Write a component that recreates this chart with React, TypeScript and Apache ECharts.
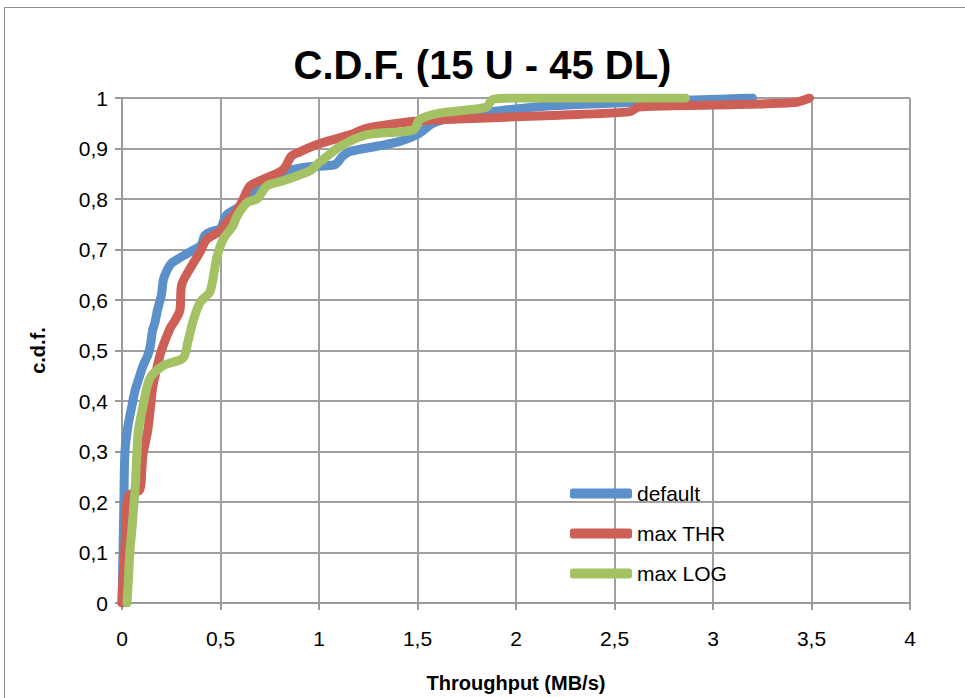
import React, { useEffect, useRef } from "react";
import * as echarts from "echarts";

const titleText = "C.D.F. (15 U - 45 DL)";
const xAxisName = "Throughput (MB/s)";
const yAxisName = "c.d.f.";
const seriesNames = ["default", "max THR", "max LOG"];
const seriesColors = ["#5B90CB", "#CD5F57", "#A4C263"];

const defaultData: number[][] = [
  [0, 0], [0.005, 0.1], [0.01, 0.21], [0.015, 0.3], [0.03, 0.35], [0.05, 0.39], [0.066, 0.42],
  [0.09, 0.45], [0.107, 0.47], [0.13, 0.49], [0.142, 0.505], [0.155, 0.54], [0.167, 0.555],
  [0.18, 0.58], [0.2, 0.61], [0.21, 0.64], [0.23, 0.66], [0.25, 0.672], [0.3, 0.685],
  [0.33, 0.692], [0.4, 0.708], [0.42, 0.728], [0.45, 0.735], [0.5, 0.742], [0.53, 0.768],
  [0.6, 0.786], [0.665, 0.812], [0.75, 0.843], [0.85, 0.857], [0.95, 0.864], [1.08, 0.868],
  [1.12, 0.885], [1.157, 0.894], [1.3, 0.905], [1.41, 0.914], [1.5, 0.928], [1.58, 0.95],
  [1.7, 0.963], [1.92, 0.975], [2.2, 0.985], [2.5, 0.99], [2.9, 0.996], [3.2, 1.0],
];

const maxThrData: number[][] = [
  [0, 0], [0.005, 0.05], [0.015, 0.11], [0.025, 0.2], [0.04, 0.215], [0.09, 0.224], [0.1, 0.26],
  [0.107, 0.295], [0.13, 0.34], [0.145, 0.39], [0.157, 0.43], [0.18, 0.47], [0.2, 0.5],
  [0.244, 0.544], [0.27, 0.56], [0.294, 0.58], [0.303, 0.63], [0.345, 0.662], [0.396, 0.695],
  [0.43, 0.72], [0.5, 0.737], [0.533, 0.755], [0.58, 0.775], [0.615, 0.8], [0.65, 0.826],
  [0.716, 0.839], [0.817, 0.858], [0.86, 0.885], [0.9, 0.893], [0.99, 0.908], [1.157, 0.927],
  [1.24, 0.94], [1.46, 0.953], [1.61, 0.957], [2.22, 0.966], [2.58, 0.973], [2.62, 0.982],
  [3.0, 0.986], [3.41, 0.991], [3.49, 1.0],
];

const maxLogData: number[][] = [
  [0.025, 0], [0.03, 0.03], [0.04, 0.1], [0.05, 0.145], [0.066, 0.224], [0.075, 0.29],
  [0.083, 0.34], [0.107, 0.39], [0.142, 0.445], [0.21, 0.47], [0.31, 0.485], [0.335, 0.518],
  [0.36, 0.557], [0.396, 0.595], [0.447, 0.617], [0.48, 0.682], [0.513, 0.72], [0.563, 0.747],
  [0.584, 0.766], [0.634, 0.793], [0.685, 0.8], [0.736, 0.826], [0.817, 0.836], [0.954, 0.856],
  [1.0, 0.872], [1.02, 0.878], [1.107, 0.904], [1.24, 0.927], [1.48, 0.937], [1.51, 0.957],
  [1.61, 0.97], [1.85, 0.982], [1.88, 0.997], [2.0, 1.0], [2.86, 1.0],
];

const allData = [defaultData, maxThrData, maxLogData];

const FONT = "'Liberation Sans', sans-serif";

const fmt = (v: number) => String(Math.round(v * 10) / 10).replace(".", ",");

export default function App() {
  const ref = useRef<HTMLDivElement>(null);
  useEffect(() => {
    if (!ref.current) return;
    const chart = echarts.init(ref.current, undefined, { renderer: "svg" });
    chart.setOption({
      animation: false,
      backgroundColor: "#ffffff",
      graphic: [
        {
          type: "rect",
          shape: { x: 4.5, y: 7.5, width: 975, height: 700 },
          style: { fill: "none", stroke: "#8c8c8c", lineWidth: 1 },
          silent: true,
        },
      ],
      title: {
        text: titleText,
        left: "center",
        top: 40,
        textStyle: { fontFamily: FONT, fontWeight: "bold", fontSize: 40, color: "#000" },
      },
      legend: {
        orient: "vertical",
        left: 565,
        top: 478,
        itemWidth: 62,
        itemHeight: 10,
        itemGap: 19,
        icon: "roundRect",
        textStyle: { fontFamily: FONT, fontSize: 21, color: "#000" },
        data: seriesNames,
      },
      grid: { left: 122, right: 55, top: 98, bottom: 91, containLabel: false },
      xAxis: {
        type: "value",
        min: 0,
        max: 4,
        interval: 0.5,
        name: xAxisName,
        nameLocation: "middle",
        nameGap: 70,
        nameTextStyle: { fontFamily: FONT, fontWeight: "bold", fontSize: 20, color: "#000" },
        axisLine: { show: true, lineStyle: { color: "#9a9a9a", width: 2 } },
        axisTick: { show: true, length: 7, lineStyle: { color: "#9a9a9a", width: 2 } },
        axisLabel: { formatter: fmt, fontFamily: FONT, fontSize: 21, color: "#000", margin: 25 },
        splitLine: { show: true, lineStyle: { color: "#a0a0a0", width: 2 } },
      },
      yAxis: {
        type: "value",
        min: 0,
        max: 1,
        interval: 0.1,
        name: yAxisName,
        nameLocation: "middle",
        nameGap: 74,
        nameRotate: 90,
        nameTextStyle: { fontFamily: FONT, fontWeight: "bold", fontSize: 20, color: "#000" },
        axisLine: { show: true, lineStyle: { color: "#9a9a9a", width: 2 } },
        axisTick: { show: true, length: 7, lineStyle: { color: "#9a9a9a", width: 2 } },
        axisLabel: { formatter: fmt, fontFamily: FONT, fontSize: 21, color: "#000", margin: 14 },
        splitLine: { show: true, lineStyle: { color: "#a0a0a0", width: 2 } },
      },
      series: seriesNames.map((name, i) => ({
        name,
        type: "line",
        data: allData[i],
        showSymbol: false,
        symbol: "none",
        smooth: 0.3,
        color: seriesColors[i],
        lineStyle: { width: 9, color: seriesColors[i], cap: "round", join: "round" },
        z: 2 + i,
      })),
    });
    return () => chart.dispose();
  }, []);
  return (
    <div
      ref={ref}
      style={{ position: "absolute", left: 0, top: 0, width: 965, height: 698 }}
    />
  );
}
